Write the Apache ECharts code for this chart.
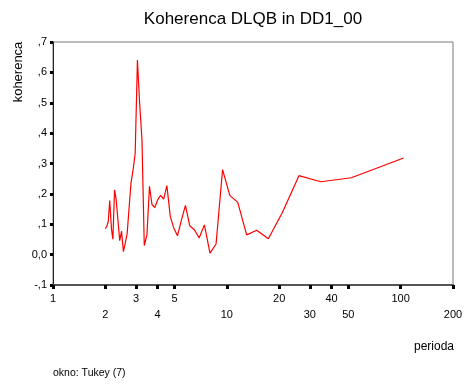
<!DOCTYPE html>
<html>
<head>
<meta charset="utf-8">
<script src="https://cdn.jsdelivr.net/npm/echarts@6/dist/echarts.min.js"></script>
<style>
  html, body { margin: 0; padding: 0; background: #fff; }
  #chart { width: 465px; height: 385px; }
</style>
</head>
<body>
<div id="chart"></div>
<script>
// Periods (Fourier frequencies of the series) and coherence estimates
const periods = [104, 52, 34.67, 26, 20.8, 17.33, 14.86, 13, 11.56, 10.4,
  9.45, 8.67, 8, 7.43, 6.93, 6.5, 6.12, 5.78, 5.47, 5.2,
  4.95, 4.73, 4.52, 4.33, 4.16, 4, 3.85, 3.71, 3.59, 3.47,
  3.35, 3.25, 3.15, 3.06, 2.97, 2.89, 2.81, 2.74, 2.67, 2.6,
  2.54, 2.48, 2.42, 2.36, 2.31, 2.26, 2.21, 2.17, 2.12, 2.08,
  2.04, 2];
const coherence = [0.318, 0.253, 0.240, 0.260, 0.137, 0.052, 0.080, 0.065, 0.172, 0.195,
  0.280, 0.035, 0.005, 0.098, 0.055, 0.082, 0.095, 0.162, 0.112, 0.062,
  0.088, 0.125, 0.227, 0.183, 0.195, 0.180, 0.155, 0.165, 0.225, 0.065,
  0.030, 0.377, 0.500, 0.641, 0.333, 0.280, 0.236, 0.154, 0.069, 0.036,
  0.010, 0.077, 0.046, 0.040, 0.180, 0.213, 0.051, 0.084, 0.178, 0.110,
  0.093, 0.085];

// Period axis ticks; the second group is printed on a lower row
const xTicksTop = [1, 3, 5, 20, 40, 100];
const xTicksBottom = [2, 4, 10, 30, 50, 200];
const xTicks = [1, 2, 3, 4, 5, 10, 20, 30, 40, 50, 100, 200];

const FONT = '"Liberation Sans", Arial, Helvetica, sans-serif';

function commaDecimal(v) {
  const s = v.toFixed(1).replace('.', ',');
  if (s === '0,0') return s;
  return s.replace(/^(-?)0,/, '$1,');
}

const chart = echarts.init(document.getElementById('chart'), null, { renderer: 'canvas' });

chart.setOption({
  animation: false,
  backgroundColor: '#ffffff',
  textStyle: { fontFamily: FONT },
  grid: {
    left: 53, right: 12, top: 42, bottom: 100,
    show: true, borderColor: '#7a7a7a', borderWidth: 1,
    containLabel: false, outerBoundsMode: 'none'
  },
  xAxis: {
    type: 'log',
    logBase: 10,
    min: 1,
    max: 200,
    splitLine: { show: false },
    axisLine: { show: true, onZero: false, lineStyle: { color: '#555', width: 2 } },
    axisTick: {
      show: true, inside: false, length: 4,
      customValues: xTicks,
      lineStyle: { color: '#000', width: 3 }
    },
    axisLabel: {
      customValues: xTicks,
      margin: 6,
      color: '#000',
      fontSize: 11,
      fontFamily: FONT,
      lineHeight: 16,
      formatter: function (v) {
        const r = Math.round(v);
        return xTicksBottom.indexOf(r) >= 0 ? '\n' + r : String(r);
      }
    }
  },
  yAxis: {
    type: 'value',
    min: -0.1,
    max: 0.7,
    interval: 0.1,
    splitLine: { show: false },
    axisLine: { show: true, onZero: false, lineStyle: { color: '#222', width: 1 } },
    axisTick: {
      show: true, inside: false, length: 3,
      lineStyle: { color: '#000', width: 3 }
    },
    axisLabel: {
      margin: 6,
      color: '#000',
      fontSize: 11,
      fontFamily: FONT,
      formatter: commaDecimal
    }
  },
  graphic: [
    {
      type: 'text', x: 253, y: 19,
      style: {
        text: 'Koherenca DLQB in DD1_00', fill: '#000',
        font: '17px ' + FONT, textAlign: 'center', textVerticalAlign: 'middle'
      }
    },
    {
      type: 'text', x: 18, y: 72, rotation: Math.PI / 2,
      style: {
        text: 'koherenca', fill: '#000',
        font: '13px ' + FONT, textAlign: 'center', textVerticalAlign: 'middle'
      }
    },
    {
      type: 'text', x: 454, y: 347,
      style: {
        text: 'perioda', fill: '#000',
        font: '12px ' + FONT, textAlign: 'right', textVerticalAlign: 'middle'
      }
    },
    {
      type: 'text', x: 53, y: 373,
      style: {
        text: 'okno: Tukey (7)', fill: '#000',
        font: '10.5px ' + FONT, textAlign: 'left', textVerticalAlign: 'middle'
      }
    }
  ],
  series: [{
    type: 'line',
    data: periods.map((p, i) => [p, coherence[i]]),
    showSymbol: false,
    symbol: 'none',
    lineStyle: { color: '#ff0000', width: 1.2 },
    silent: true
  }]
});
</script>
</body>
</html>
